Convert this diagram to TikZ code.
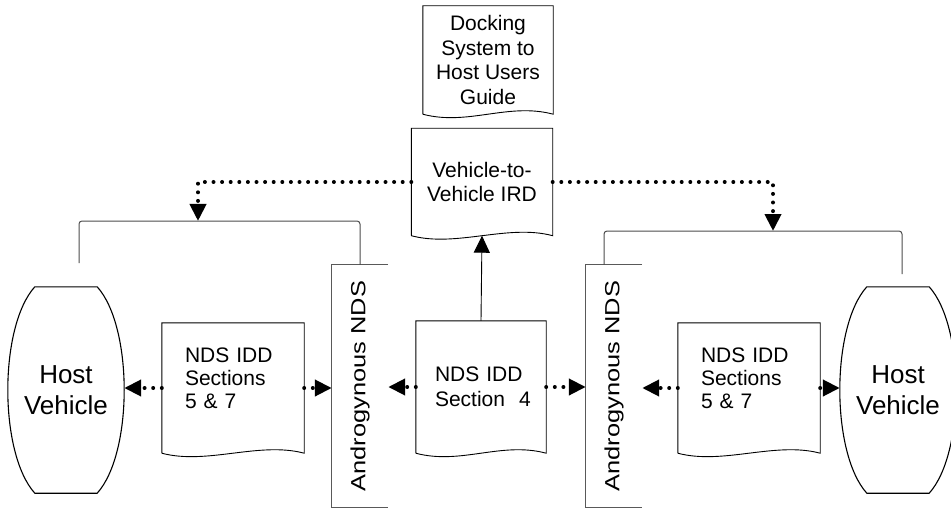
\documentclass[tikz,border=0pt]{standalone}
\usepackage{fontspec}
\setmainfont{Liberation Sans}
\usepackage{graphicx}
\usetikzlibrary{arrows.meta, calc}

\newcommand{\docfont}{\fontsize{21}{24.5}\selectfont}
\newcommand{\hostfont}{\fontsize{26}{31}\selectfont}
\newcommand{\androtext}{\rotatebox{90}{\scalebox{1.24}[1]{Androgynous NDS}}}

% outlines drawn round named nodes
\newcommand{\docout}[1]{\draw[docline] (#1.south west) -- (#1.north west) -- (#1.north east) -- (#1.south east) .. controls +(-45,-12) and +(45,12) .. (#1.south west);}
\newcommand{\barrelout}[1]{\draw[hostline] ([xshift=27]#1.north west) -- ([xshift=-27]#1.north east) .. controls +(36,40) and +(36,-40) .. ([xshift=-27]#1.south east) -- ([xshift=27]#1.south west) .. controls +(-36,-40) and +(-36,40) .. cycle;}
\newcommand{\androout}[1]{\draw[androline] (#1.north east) -- (#1.north west) -- (#1.south west) -- (#1.south east);}

\tikzset{
	>={Triangle[length=17pt, width=16pt]},
	doc/.style={minimum width=142, minimum height=130, inner sep=2, font=\docfont},
	sections/.style={doc, text width=96, align=left, text depth=66, font=\fontsize{21}{23}\selectfont},
	host/.style={minimum width=116, minimum height=206, inner sep=2, align=center, font=\hostfont},
	andro/.style={minimum width=56, minimum height=242, inner sep=0, font=\fontsize{20.5}{24}\selectfont},
	docline/.style={black, line width=0.9pt},
	hostline/.style={black, line width=1.1pt},
	androline/.style={black!65, line width=1.1pt},
	bracket/.style={black!70, line width=1pt, rounded corners=3},
	link/.style={->, line width=4pt, dash pattern=on 0pt off 8.6pt, line cap=round},
	solidlink/.style={->, line width=0.9pt},
}

\begin{document}
\begin{tikzpicture}[x=1pt, y=-1pt]
	\useasboundingbox (0,0) rectangle (951,508);

	% documents
	\node[doc, minimum width=130, minimum height=108, align=center] (guide) at (488,60) {Docking\\System to\\Host Users\\Guide};
	\node[doc, minimum width=141, minimum height=107, align=center] (ird) at (482,182) {Vehicle-to-\\Vehicle IRD};
	\node[sections] (secL) at (233,388) {NDS IDD\\Sections\\5 \& 7};
	\node[doc, minimum width=130, minimum height=132, text width=92, align=left] (sec4) at (481,387) {NDS IDD\\Section~ 4};
	\node[sections] (secR) at (749,388) {NDS IDD\\Sections\\5 \& 7};

	% host vehicles
	\node[host] (hostL) at (66,390) {Host\\Vehicle};
	\node[host] (hostR) at (898,390) {Host\\Vehicle};

	% androgynous NDS
	\node[andro] (andL) at (360,386) {\androtext};
	\node[andro] (andR) at (614,386) {\androtext};

	\docout{guide}
	\docout{ird}
	\docout{secL}
	\docout{sec4}
	\docout{secR}
	\barrelout{hostL}
	\barrelout{hostR}
	\androout{andL}
	\androout{andR}

	% brackets
	\coordinate (capL) at (79,263);
	\coordinate (brL) at (198,221);
	\coordinate (capR) at (902,274);
	\coordinate (brR) at (773,231);
	\draw[bracket] (capL) |- (brL) -| (andL.north);
	\draw[bracket] (capR) |- (brR) -| ([xshift=-10]andR.north);

	% connectors
	\draw[link] (ird.west) -| (brL);
	\draw[link] (ird.east) -| (brR);
	\draw[solidlink] (sec4.north) -- (ird.south);
	\draw[link] (secL.west) -- (secL.west -| hostL.east);
	\draw[link] (secL.east) -- (secL.east -| andL.west);
	\draw[link] (sec4.west) -- (sec4.west -| andL.east);
	\draw[link] (sec4.east) -- (sec4.east -| andR.west);
	\draw[link] (secR.west) -- (secR.west -| andR.east);
	\draw[link] (secR.east) -- (secR.east -| hostR.west);

\end{tikzpicture}
\end{document}
